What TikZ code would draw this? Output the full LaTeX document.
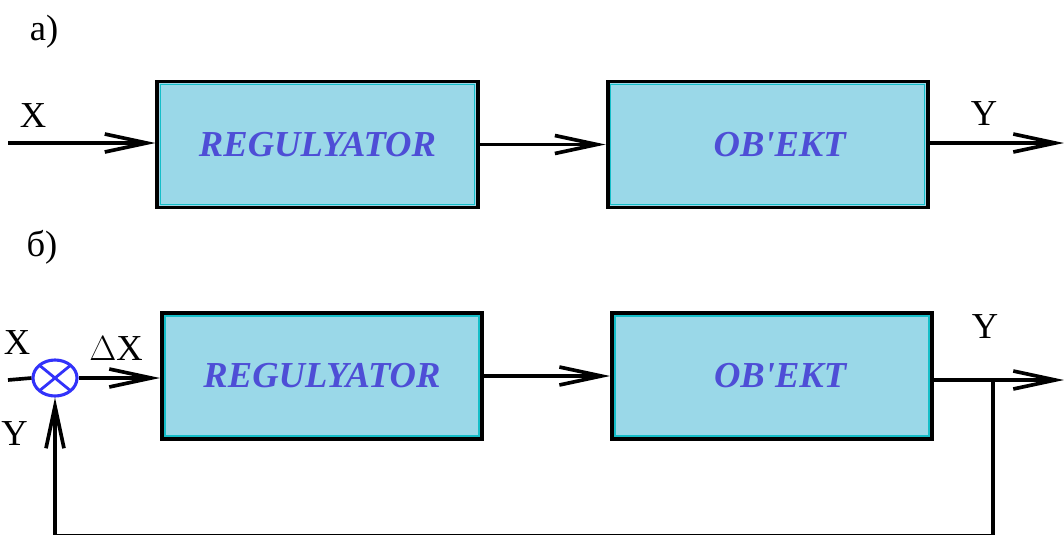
\documentclass[tikz,border=0pt]{standalone}
\usepackage{fontspec}
\setmainfont{Liberation Serif}
\newfontfamily\boxfont{Liberation Serif}[Ligatures=TeXOff]
\usetikzlibrary{arrows.meta, shapes.geometric, positioning}

\definecolor{boxfill}{RGB}{154,216,232}
\definecolor{boxtext}{RGB}{78,78,214}
\definecolor{sumblue}{RGB}{50,50,250}
\definecolor{boxedge}{RGB}{20,190,200}

\tikzset{
	block/.style={draw=black, line width=2.8pt, fill=boxfill, minimum width=8cm, minimum height=3.15cm,
		text=boxtext, font=\fontsize{26}{30}\boxfont\bfseries\itshape,
		path picture={\draw[boxedge, line width=1pt]
			([shift={(2.2pt,2.2pt)}]path picture bounding box.south west) rectangle
			([shift={(-2.2pt,-2.2pt)}]path picture bounding box.north east);}},
	summer/.style={ellipse, draw=sumblue, line width=2.2pt, minimum width=1.1cm, minimum height=0.9cm, inner sep=0pt,
		path picture={\draw[sumblue, line width=2pt]
			(path picture bounding box.north west) -- (path picture bounding box.south east)
			(path picture bounding box.north east) -- (path picture bounding box.south west);}},
	sig/.style={line width=2.6pt, -{Straight Barb[length=1.05cm, width=0.45cm]}},
	wire/.style={line width=2.6pt},
	lbl/.style={font=\fontsize{26}{30}\selectfont, inner sep=0pt},
}

\begin{document}
\begin{tikzpicture}[x=0.025cm, y=-0.025cm, on grid, node distance=11.25cm]
		\useasboundingbox (0,0) rectangle (1064,534);
		
		% a) open loop
		\node[block] (reg1) at (317.5,144.5) {REGULYATOR};
		\node[block, right = of reg1] (obj1) {\hspace*{0.6cm}OB'EKT};
		
		% b) closed loop
		\node[block] (reg2) at (322,376) {REGULYATOR};
		\node[block, right = of reg2] (obj2) {\hspace*{0.4cm}OB'EKT};
		\node[summer] (sum) at (55,378) {};
		
		\coordinate (in1) at (8,143);
		\coordinate (out1) at (1064,143);
		\coordinate (in2) at (8,380);
		\coordinate (out2) at (1064,380);
		\coordinate (tap) at (993,380);
		\coordinate (fb) at (993,536);
		
		\node[lbl] (la) at (44,32) {а)};
		\node[lbl] (lb) at (42,247) {б)};
		\node[lbl] (x1) at (33,116) {X};
		\node[lbl] (y1) at (984,114) {Y};
		\node[lbl] (x2) at (17,343) {X};
		\node[lbl] (dx) at (116,349) {$\Delta$X};
		\node[lbl, anchor=west] (y2) at (1,434) {Y};
		\node[lbl] (y3) at (985,327) {Y};
		
		\draw[sig] (in1) -- (in1 -| reg1.west);
		\draw[sig] (reg1.east) -- (reg1.east -| obj1.west);
		\draw[sig] (obj1.east |- out1) -- (out1);
		
		\draw[wire] (in2) -- (sum.west);
		\draw[sig] (sum.east) -- (sum.east -| reg2.west);
		\draw[sig] (reg2.east) -- (reg2.east -| obj2.west);
		\draw[sig] (obj2.east |- out2) -- (out2);
		\draw[sig] (tap) -- (fb) -| (sum.south);
		
		\end{tikzpicture}
\end{document}
